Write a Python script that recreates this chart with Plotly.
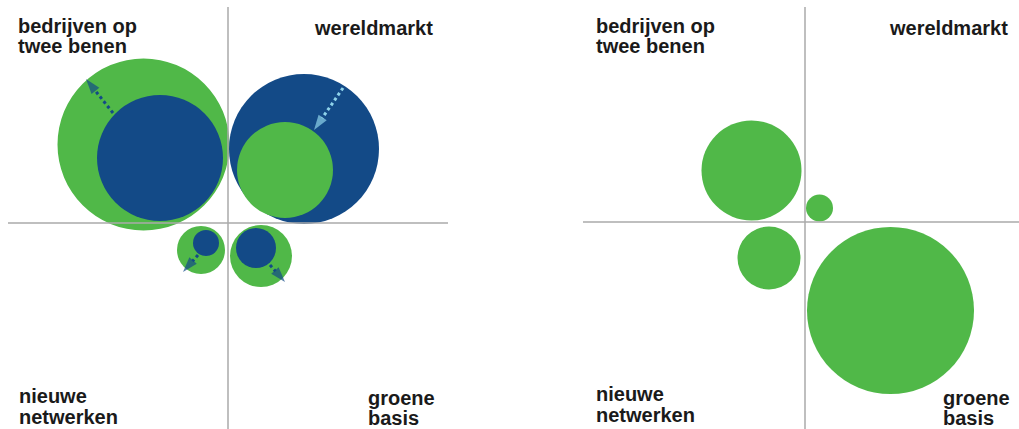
import plotly.graph_objects as go

GREEN = "#50b848"
BLUE = "#134a87"
LIGHT = "#8fd3ea"
GREY = "#aaaaaa"
TEXT = "#1a1a1a"

# ---- data (units: quadrant coordinates, origin at the cross) ----
# Left panel: circles drawn in order (outer first, then inner)
left_cx = [-8.45, -6.8, 7.6, 5.7, -2.7, -2.2, 3.3, 2.8]
left_cy = [7.85, 6.5, 7.4, 5.3, -2.7, -2.0, -3.3, -2.5]
left_r = [8.6, 6.3, 7.5, 4.8, 2.4, 1.3, 3.1, 2.0]
left_col = ["g", "b", "b", "g", "g", "b", "g", "b"]

# Left panel arrows (tail -> tip)
arr_x0 = [-11.5, 11.5, -3.0, 4.2]
arr_y0 = [11.0, 13.5, -3.2, -4.2]
arr_x1 = [-14.2, 8.6, -4.5, 5.7]
arr_y1 = [14.4, 9.3, -4.9, -5.9]
arr_col = ["b", "l", "b", "b"]

# Right panel circles
right_cx = [-5.35, 1.45, -3.6, 8.55]
right_cy = [5.15, 1.4, -3.6, -8.85]
right_r = [5.0, 1.35, 3.15, 8.35]

# Cross lines extents [xmin, xmax, ymin, ymax]
left_cross = [-22.0, 22.0, -20.6, 21.6]
right_cross = [-22.2, 21.4, -20.7, 21.5]

# Quadrant labels (text, x, y, anchor) per panel
left_labels = [
    ("bedrijven op", -21.1, 19.75, "left"),
    ("twee benen", -21.1, 17.75, "left"),
    ("wereldmarkt", 20.6, 19.5, "right"),
    ("nieuwe", -21.0, -17.3, "left"),
    ("netwerken", -21.0, -19.35, "left"),
    ("groene", 13.9, -17.5, "left"),
    ("basis", 13.9, -19.5, "left"),
]
right_labels = [
    ("bedrijven op", -21.0, 19.65, "left"),
    ("twee benen", -21.0, 17.65, "left"),
    ("wereldmarkt", 20.4, 19.4, "right"),
    ("nieuwe", -21.0, -17.2, "left"),
    ("netwerken", -21.0, -19.25, "left"),
    ("groene", 13.7, -17.55, "left"),
    ("basis", 13.7, -19.55, "left"),
]

cmap = {"g": GREEN, "b": BLUE, "l": LIGHT}

fig = go.Figure()
shapes = []


def add_circles(cx, cy, r, cols, xref, yref):
    for x, y, rr, c in zip(cx, cy, r, cols):
        shapes.append(dict(type="circle", xref=xref, yref=yref,
                           x0=x - rr, x1=x + rr, y0=y - rr, y1=y + rr,
                           fillcolor=cmap[c], line=dict(width=0), layer="below"))


add_circles(left_cx, left_cy, left_r, left_col, "x", "y")
add_circles(right_cx, right_cy, right_r, ["g"] * len(right_cx), "x2", "y2")

# cross lines
for cross, xa, ya in [(left_cross, "x", "y"), (right_cross, "x2", "y2")]:
    fig.add_trace(go.Scatter(x=[cross[0], cross[1]], y=[0, 0], mode="lines",
                             line=dict(color=GREY, width=1.5), xaxis=xa, yaxis=ya,
                             hoverinfo="skip", showlegend=False))
    fig.add_trace(go.Scatter(x=[0, 0], y=[cross[2], cross[3]], mode="lines",
                             line=dict(color=GREY, width=1.5), xaxis=xa, yaxis=ya,
                             hoverinfo="skip", showlegend=False))

# arrows
for x0, y0, x1, y1, c in zip(arr_x0, arr_y0, arr_x1, arr_y1, arr_col):
    fig.add_trace(go.Scatter(
        x=[x0, x1], y=[y0, y1], mode="lines+markers",
        line=dict(color=cmap[c], width=3, dash="dot"),
        marker=dict(symbol=["circle", "arrow"], size=[0, 16], color=cmap[c],
                    angleref="previous", line=dict(width=0)),
        xaxis="x", yaxis="y", hoverinfo="skip", showlegend=False))

annotations = []
for labels, xa, ya in [(left_labels, "x", "y"), (right_labels, "x2", "y2")]:
    for t, x, y, anc in labels:
        annotations.append(dict(text=t, x=x, y=y, xref=xa, yref=ya,
                                xanchor=anc, yanchor="middle", showarrow=False,
                                borderpad=0,
                                font=dict(family="Liberation Sans", size=20,
                                          color=TEXT, weight="bold")))

W, H = 1019, 429
fig.update_layout(
    width=W, height=H, margin=dict(l=0, r=0, t=0, b=0),
    paper_bgcolor="white", plot_bgcolor="white",
    shapes=shapes, annotations=annotations,
    xaxis=dict(domain=[0, 458 / W], range=[-22.8, 23.0], visible=False),
    yaxis=dict(domain=[0, 1], range=[-20.6, 22.3], visible=False),
    xaxis2=dict(domain=[560 / W, 1], range=[-24.5, 21.4], visible=False),
    yaxis2=dict(domain=[0, 1], range=[-20.7, 22.2], visible=False, anchor="x2"),
)
fig.write_html("out.html", config={"displayModeBar": False},
               post_script="document.body.style.margin='0';")
